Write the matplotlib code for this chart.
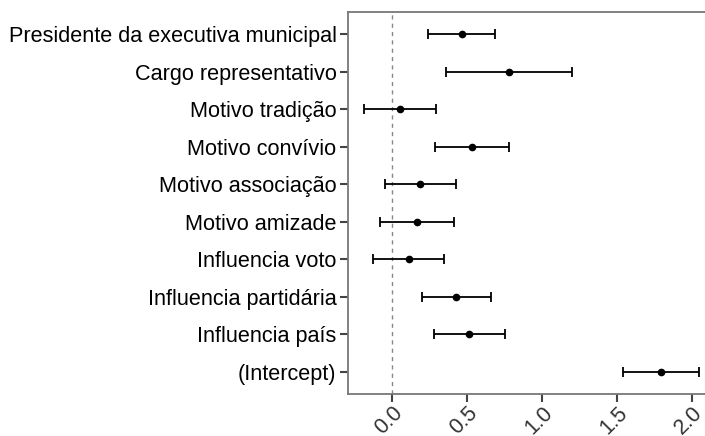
import matplotlib
matplotlib.use("Agg")
import matplotlib.pyplot as plt

# termos do modelo (de cima para baixo)
terms = ["Presidente da executiva municipal", "Cargo representativo",
         "Motivo tradição", "Motivo convívio", "Motivo associação",
         "Motivo amizade", "Influencia voto", "Influencia partidária",
         "Influencia país", "(Intercept)"]
estimate = [0.462, 0.778, 0.053, 0.531, 0.187, 0.165, 0.109, 0.427, 0.511, 1.791]
lower = [0.238, 0.358, -0.189, 0.287, -0.049, -0.084, -0.127, 0.196, 0.276, 1.540]
upper = [0.682, 1.198, 0.293, 0.776, 0.422, 0.413, 0.345, 0.658, 0.749, 2.047]
xticks = [0.0, 0.5, 1.0, 1.5, 2.0]

plt.rcParams['font.family'] = ['Liberation Sans', 'DejaVu Sans']

fig = plt.figure(figsize=(7.05, 4.36), dpi=100)
ax = fig.add_axes([347.7 / 705, 42 / 436, 1 - 347.7 / 705, (394 - 12) / 436])

n = len(terms)
ypos = list(range(n, 0, -1))
err_lo = [e - l for e, l in zip(estimate, lower)]
err_hi = [u - e for e, u in zip(estimate, upper)]

ax.axvline(0, color='#888888', linestyle=(0, (3, 3)), linewidth=1.0, zorder=1)
ax.errorbar(estimate, ypos, xerr=[err_lo, err_hi], fmt='o', color='black',
            ecolor='black', elinewidth=1.3, capsize=3.3, capthick=1.3,
            markersize=4.5, zorder=3)

ax.set_yticks(ypos)
ax.set_yticklabels(terms, fontsize=15.6, color='black')
ax.set_xticks(xticks)
ax.set_xticklabels([f"{t:.1f}" for t in xticks], fontsize=15.5, color='#333333',
                   rotation=45, ha='right', va='top', rotation_mode='anchor')
ax.set_xlim(-0.297, (705 - 392.3) / 150)
ax.set_ylim(0.4, n + 0.6)

for side in ['left', 'bottom', 'top']:
    ax.spines[side].set_color('#777777')
    ax.spines[side].set_linewidth(1.3)
ax.spines['right'].set_visible(False)
ax.tick_params(axis='both', length=5.5, width=1.5, color='#444444', pad=2.5)
ax.tick_params(axis='x', pad=0.5)

fig.savefig("out.png", dpi=100)
